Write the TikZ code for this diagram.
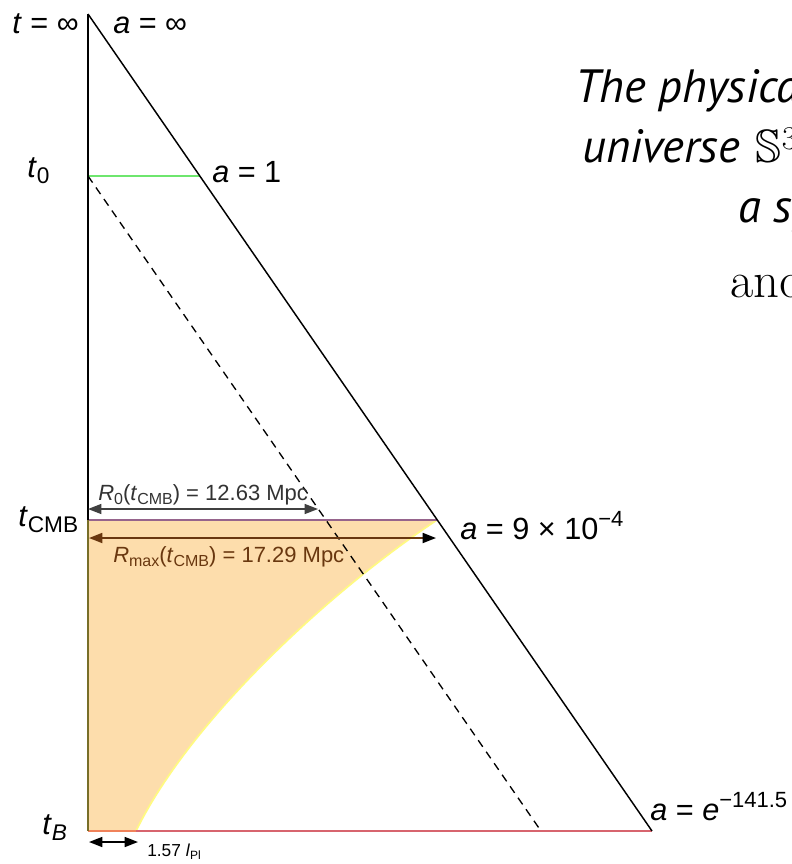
\documentclass[tikz,border=0pt]{standalone}
\usepackage{fontspec}
\usepackage{amssymb}
\usetikzlibrary{arrows.meta}
\newfontfamily\hv{Liberation Sans}
\newfontfamily\ptsans{PT Sans}
\definecolor{peach}{RGB}{253,221,172}
\definecolor{purp}{RGB}{150,100,140}
\definecolor{redl}{RGB}{215,100,110}
\definecolor{orl}{RGB}{240,130,90}
\definecolor{grn}{RGB}{110,230,110}
\definecolor{olv}{RGB}{120,110,40}
\definecolor{brn}{RGB}{105,55,15}
\definecolor{edge}{RGB}{255,250,130}
\newcommand\vv[1]{\textit{#1}}
\newcommand\bsub[1]{\raisebox{-0.2em}{\fontsize{17}{17}\selectfont #1}}
\newcommand\bsup[1]{\raisebox{0.42em}{\fontsize{16.5}{17}\selectfont #1}}
\newcommand\ssub[1]{\raisebox{-0.2em}{\fontsize{12}{12}\selectfont #1}}
\newcommand\tsub[1]{\raisebox{-0.2em}{\fontsize{9}{9}\selectfont #1}}
\begin{document}
\begin{tikzpicture}[x=0.75pt,y=-0.75pt,
  >={Triangle[length=10pt,width=7.5pt]},
  lbl/.style={font=\hv\fontsize{23}{26}\selectfont, inner sep=0, anchor=base west},
  rlbl/.style={font=\hv\fontsize{16.5}{18}\selectfont, inner sep=0, anchor=base west},
  head/.style={font=\ptsans\itshape\fontsize{35}{38}\selectfont, inner sep=0, anchor=base west},
  edgeline/.style={line width=1.1pt}]
\useasboundingbox (0,0) rectangle (792,864);
\fill[white] (0,0) rectangle (792,864);
\begin{scope}
\clip (0,0) rectangle (792,864);
% key points
\coordinate (top) at (88,14);
\coordinate (bot) at (88,831);
\coordinate (br) at (652,831);
\coordinate (t0) at (88,176);
\coordinate (a1) at (200,176);
\coordinate (cL) at (88,520);
\coordinate (cR) at (437,520);
\coordinate (dB) at (541,831);
\coordinate (hB) at (136,831);
\coordinate (r0L) at (88,509);
\coordinate (r0R) at (318,509);
\coordinate (rmL) at (89,538);
\coordinate (rmR) at (436,538);
\coordinate (pL) at (89,842);
\coordinate (pR) at (138,842);
% horizon region
\fill[peach] (cL) -- (cR) .. controls (331,590) and (190,720) .. (hB) -- (bot) -- cycle;
\draw[edge, line width=1.3pt] (cR) .. controls (331,590) and (190,720) .. (hB);
% horizontal lines
\draw[redl, line width=1.8pt] (hB) -- (br);
\draw[orl, line width=1.8pt] (bot) -- (hB);
\draw[purp, line width=2pt] (cL) -- (cR);
\draw[grn, line width=1.7pt] (t0) -- (a1);
% triangle
\draw[black, edgeline] (top) -- (cL);
\draw[olv, edgeline] (cL) -- (bot);
\draw[black, edgeline] (top) -- (br);
\draw[black, line width=1pt, dash pattern=on 6pt off 4.5pt] (t0) -- (dB);
% arrows
\draw[<->, black!75, line width=1pt] (r0L) -- (r0R);
\draw[{Triangle[length=10pt,width=7.5pt,color=brn]}-{Triangle[length=10pt,width=7.5pt,color=black]}, brn, line width=1.3pt] (rmL) -- (rmR);
\draw[<->, black, line width=1.2pt] (pL) -- (pR);
% labels
\node[lbl] (ltinf) at (12,33) {\vv{t} = ∞};
\node[lbl] (lainf) at (113,33) {\vv{a} = ∞};
\node[lbl] (lt0) at (27,177) {\vv{t}\bsub{0}};
\node[lbl] (la1) at (212,182) {\vv{a} = 1};
\node[lbl] (ltc) at (18,526) {\vv{t}\bsub{CMB}};
\node[lbl] (lac) at (460,539) {\vv{a} = 9 × 10\bsup{−4}};
\node[lbl] (ltb) at (42,834) {\vv{t}\bsub{\vv{B}}};
\node[lbl] (lab) at (650,820) {\vv{a} = \vv{e}\bsup{−141.5}};
\node[rlbl, text=black!80] (lr0) at (98,500) {\vv{R}\ssub{0}(\vv{t}\ssub{CMB}) = 12.63 Mpc};
\node[rlbl, text=brn] (lrm) at (113,562) {\vv{R}\ssub{max}(\vv{t}\ssub{CMB}) = 17.29 Mpc};
\node[font=\hv\fontsize{13}{14}\selectfont, inner sep=0, anchor=base west] (lpl) at (147,856) {1.57 \vv{l}\tsub{Pl}};
% slide text
\node[head] (h1) at (575,102) {The physical};
\node[head] (h2) at (582,162) {universe\hspace{0.35em}$\mathbb{S}^3$};
\node[head] (h3) at (738,222) {a space};
\node[font=\rmfamily\fontsize{38}{40}\selectfont, inner sep=0, anchor=base west] (h4) at (730,297) {and};
\end{scope}
\end{tikzpicture}
\end{document}
